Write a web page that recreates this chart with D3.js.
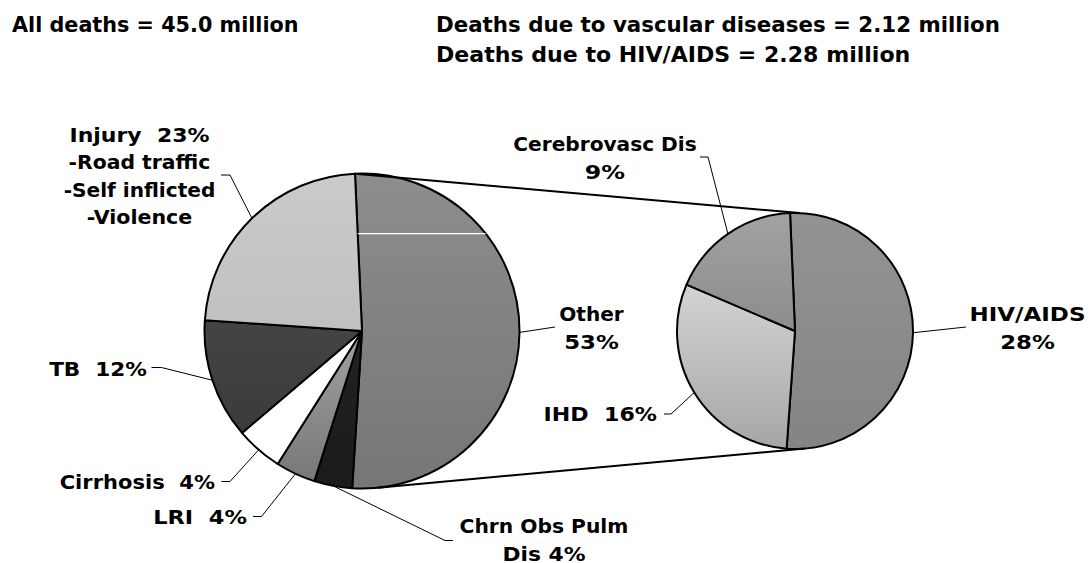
<!DOCTYPE html>
<html>
<head>
<meta charset="utf-8">
<script src="https://cdn.jsdelivr.net/npm/d3@7"></script>
<style>
  html, body { margin: 0; padding: 0; background: #fff; }
  text { font-family: "DejaVu Sans", Verdana, sans-serif; font-weight: bold; white-space: pre; fill: #000; }
</style>
</head>
<body>
<svg id="chart" width="1090" height="563"></svg>
<script>
// ---------------- DATA ----------------
const titleLines = ["All deaths = 45.0 million"];
const subtitleLines = ["Deaths due to vascular diseases = 2.12 million", "Deaths due to HIV/AIDS = 2.28 million"];

const leftCategories = ["Other", "Chrn Obs Pulm Dis", "LRI", "Cirrhosis", "TB", "Injury"];
const leftShares = [51.7, 3.9, 4.1, 4.8, 12.3, 23.2];          // slice sizes as drawn
const leftPercentLabels = ["53%", "4%", "4%", "4%", "12%", "23%"];

const rightCategories = ["HIV/AIDS", "IHD", "Cerebrovasc Dis"];
const rightShares = [51.8, 30.3, 17.9];
const rightPercentLabels = ["28%", "16%", "9%"];

// ---------------- STYLE / LAYOUT ----------------
const leftFills = [["#8d8d8d", "#767676"], ["#222222", "#1b1b1b"], ["#a2a2a2", "#777777"], ["#ffffff", "#ffffff"], ["#444444", "#3b3b3b"], ["#cbcbcb", "#c0c0c0"]];
const rightFills = [["#939393", "#848484"], ["#d3d3d3", "#a6a6a6"], ["#a2a2a2", "#8c8c8c"]];

const leftPie = { cx: 362, cy: 331, r: 157.5, start: -2.55 };
const rightPie = { cx: 795, cy: 331, r: 118, start: -2.4 };

const labelSize = 20.3;
const lineHeight = 27.6;
const leftLabelLayout = [
  { lines: ["Other", "{p}"], x: 591.5, y: 321, anchor: "middle", end: [555, 327], elbow: null },
  { lines: ["Chrn Obs Pulm", "Dis {p}"], x: 544, y: 533, anchor: "middle", end: [453, 540.5], elbow: [445, 540.5] },
  { lines: ["LRI  {p}"], x: 247, y: 524, anchor: "end", end: [253, 516.5], elbow: [261.5, 516.5] },
  { lines: ["Cirrhosis  {p}"], x: 215, y: 489, anchor: "end", end: [221.5, 481.5], elbow: [230, 481.5] },
  { lines: ["TB  {p}"], x: 147, y: 376, anchor: "end", end: [151.5, 367.5], elbow: [161.5, 367.5] },
  { lines: ["Injury  {p}", "-Road traffic", "-Self inflicted", "-Violence"], x: 139.5, y: 142, anchor: "middle", end: [221, 175], elbow: [230, 175], lh: 27.3 }
];
const rightLabelLayout = [
  { lines: ["HIV/AIDS", "{p}"], x: 1027.5, y: 321, anchor: "middle", end: [966, 327], elbow: null },
  { lines: ["IHD  {p}"], x: 657, y: 421, anchor: "end", end: [664, 414], elbow: [671, 414] },
  { lines: ["Cerebrovasc Dis", "{p}"], x: 605, y: 151, anchor: "middle", end: [700, 157], elbow: [708, 157] }
];

// connector lines between the pies (angle on left pie -> angle on right pie, in degrees)
const connectors = [[-2.55, 2.4], [174.2, 175.1]];

// approximate advance widths (em) of the original bold face, used to size each text line
const refWidths = {" ":.342,"%":1.271,"-":.423,".":.363,"/":.689,"=":.837,"0":.711,"1":.711,"2":.711,"3":.711,"4":.711,"5":.711,"6":.711,"7":.711,"8":.711,"9":.711,
  "A":.776,"B":.761,"C":.723,"D":.830,"H":.837,"I":.545,"L":.637,"O":.850,"P":.733,"R":.770,"S":.710,"T":.682,"V":.776,
  "a":.668,"b":.699,"c":.588,"d":.699,"e":.664,"f":.422,"h":.712,"i":.342,"j":.403,"l":.342,"m":1.058,"n":.712,"o":.687,"r":.497,"s":.593,"t":.456,"u":.712,"v":.650,"y":.651};
const refLen = (s, size) => [...s].reduce((a, c) => a + (refWidths[c] || .65), 0) * size;

// ---------------- DRAW ----------------
const svg = d3.select("#chart");
svg.append("rect").attr("width", 1090).attr("height", 563).attr("fill", "#fff");
const defs = svg.append("defs");
const rad = d => d * Math.PI / 180;

function addLine(str, x, y, size, anchor) {
  return svg.append("text").attr("x", x).attr("y", y)
    .attr("text-anchor", anchor).style("font-size", size + "px")
    .attr("textLength", refLen(str, size)).attr("lengthAdjust", "spacingAndGlyphs")
    .text(str);
}

titleLines.forEach((t, i) => addLine(t, 12, 32 + i * 30, 20.8, "start"));
subtitleLines.forEach((t, i) => addLine(t, 436, 32 + i * 30, 21.5, "start"));

function drawPie(cfg, shares, pcts, fills, layout, id) {
  const pie = d3.pie().sort(null).value(d => d)
    .startAngle(rad(cfg.start)).endAngle(rad(cfg.start) + 2 * Math.PI);
  const arcs = pie(shares);
  const arc = d3.arc().innerRadius(0).outerRadius(cfg.r);
  const g = svg.append("g").attr("transform", `translate(${cfg.cx},${cfg.cy})`);

  fills.forEach((f, i) => {
    const lg = defs.append("linearGradient").attr("id", `${id}g${i}`)
      .attr("x1", 0).attr("y1", 0).attr("x2", 0).attr("y2", 1);
    lg.append("stop").attr("offset", "0%").attr("stop-color", f[0]);
    lg.append("stop").attr("offset", "100%").attr("stop-color", f[1]);
  });

  g.selectAll("path.slice").data(arcs).join("path")
    .attr("class", "slice")
    .attr("d", arc)
    .attr("fill", (d, i) => `url(#${id}g${i})`)
    .attr("stroke", "#000").attr("stroke-width", 2).attr("stroke-linejoin", "round");

  arcs.forEach((a, i) => {
    const L = layout[i];
    const mid = (a.startAngle + a.endAngle) / 2;
    const p0 = [cfg.cx + cfg.r * Math.sin(mid), cfg.cy - cfg.r * Math.cos(mid)];
    const pts = [p0];
    if (L.elbow) pts.push(L.elbow);
    pts.push(L.end);
    svg.append("path").attr("d", d3.line()(pts))
      .attr("fill", "none").attr("stroke", "#000").attr("stroke-width", 1);
    const lh = L.lh || lineHeight;
    L.lines.forEach((ln, j) => addLine(ln.replace("{p}", pcts[i]), L.x, L.y + j * lh, labelSize, L.anchor));
  });
  return { arcs, arc };
}

const left = drawPie(leftPie, leftShares, leftPercentLabels, leftFills, leftLabelLayout, "L");
const right = drawPie(rightPie, rightShares, rightPercentLabels, rightFills, rightLabelLayout, "R");

// thin white artifact line inside the "Other" slice
defs.append("clipPath").attr("id", "otherClip")
  .append("path").attr("d", left.arc(left.arcs[0]))
  .attr("transform", `translate(${leftPie.cx},${leftPie.cy})`);
svg.append("line").attr("clip-path", "url(#otherClip)")
  .attr("x1", leftPie.cx - 5).attr("x2", leftPie.cx + leftPie.r)
  .attr("y1", leftPie.cy - 0.618 * leftPie.r).attr("y2", leftPie.cy - 0.618 * leftPie.r)
  .attr("stroke", "#fff").attr("stroke-width", 1.2);

// connectors
connectors.forEach(([a1, a2]) => {
  const p1 = [leftPie.cx + leftPie.r * Math.sin(rad(a1)), leftPie.cy - leftPie.r * Math.cos(rad(a1))];
  const p2 = [rightPie.cx + rightPie.r * Math.sin(rad(a2)), rightPie.cy - rightPie.r * Math.cos(rad(a2))];
  svg.append("line").attr("x1", p1[0]).attr("y1", p1[1]).attr("x2", p2[0]).attr("y2", p2[1])
    .attr("stroke", "#000").attr("stroke-width", 2);
});
</script>
</body>
</html>
